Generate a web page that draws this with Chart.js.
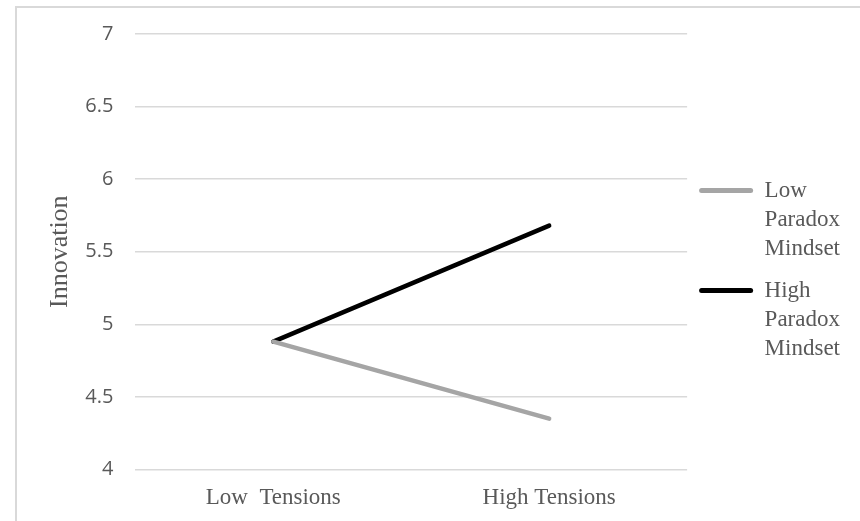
<!DOCTYPE html>
<html>
<head>
<meta charset="utf-8">
<script src="https://cdn.jsdelivr.net/npm/chart.js@4.4.1/dist/chart.umd.min.js"></script>
<style>
    html, body { margin: 0; padding: 0; background: #fff; overflow: hidden; }
    #frame { position: absolute; left: 15px; top: 6px; width: 900px; height: 600px; border: 2px solid #d9d9d9; }
    #wrap { position: absolute; left: 0; top: 0; width: 860px; height: 527px; }
</style>
</head>
<body>
<div id="frame"></div>
<div id="wrap"><canvas id="myChart"></canvas></div>
<script>
const categories = ['Low  Tensions', 'High Tensions'];
const lowParadox = [4.88, 4.35];
const highParadox = [4.88, 5.68];
const seriesNames = ['Low Paradox Mindset', 'High Paradox Mindset'];
const yTicks = [4, 4.5, 5, 5.5, 6, 6.5, 7];

const serif = "'Liberation Serif', 'Times New Roman', serif";
const sans = "'Open Sans', 'Liberation Sans', sans-serif";
const textColor = '#595959';

document.addEventListener('DOMContentLoaded', function () {
    const ctx = document.getElementById('myChart');

    new Chart(ctx, {
        type: 'line',
        data: {
            labels: categories,
            datasets: [{
                label: seriesNames[0],
                data: lowParadox,
                borderColor: '#a5a5a5',
                backgroundColor: '#a5a5a5',
                borderWidth: 4.5,
                borderCapStyle: 'round',
                pointRadius: 0
            }, {
                label: seriesNames[1],
                data: highParadox,
                borderColor: '#000000',
                backgroundColor: '#000000',
                borderWidth: 4.5,
                borderCapStyle: 'round',
                pointRadius: 0
            }]
        },
        options: {
            responsive: true,
            maintainAspectRatio: false,
            animation: false,
            layout: { padding: { top: 19, right: 10, bottom: 0, left: 41 } },
            plugins: {
                tooltip: { enabled: false },
                legend: {
                    position: 'right',
                    labels: {
                        boxWidth: 54,
                        boxHeight: 5,
                        useBorderRadius: true,
                        borderRadius: 2.5,
                        padding: 12,
                        color: textColor,
                        font: { family: serif, size: 23, lineHeight: 29.3 / 23 },
                        generateLabels: function (chart) {
                            const items = Chart.defaults.plugins.legend.labels.generateLabels(chart);
                            items.forEach(function (it) {
                                it.text = it.text.split(' ');
                                it.lineWidth = 0;
                            });
                            return items;
                        }
                    }
                }
            },
            scales: {
                x: {
                    offset: true,
                    grid: { display: false, drawTicks: false },
                    border: { display: false },
                    ticks: { color: textColor, font: { family: serif, size: 23 }, padding: 15 }
                },
                y: {
                    min: 4,
                    max: 7,
                    afterBuildTicks: function (axis) {
                        axis.ticks = yTicks.map(function (v) { return { value: v }; });
                    },
                    grid: { color: '#d9d9d9', lineWidth: 1.5, drawTicks: false },
                    border: { display: false },
                    ticks: {
                        color: textColor,
                        font: { family: sans, size: 20 },
                        padding: 22,
                        callback: function (v) { return String(v); }
                    },
                    title: {
                        display: true,
                        text: 'Innovation',
                        color: textColor,
                        font: { family: serif, size: 26 },
                        padding: { top: 4, bottom: -13 }
                    }
                }
            }
        }
    });
});
</script>
</body>
</html>
